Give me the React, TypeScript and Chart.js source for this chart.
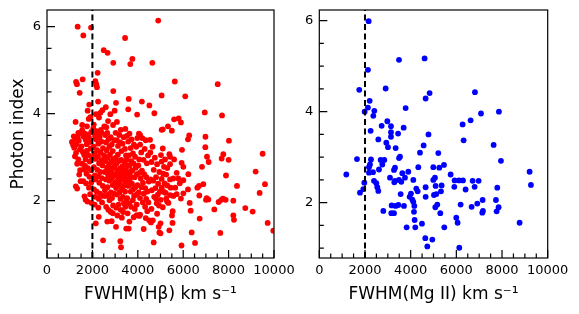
import React, { useEffect, useRef } from "react";
import { Chart, registerables } from "chart.js";

Chart.register(...registerables);

// ---------- axis ticks ----------
const X_MAJOR = [0, 2000, 4000, 6000, 8000, 10000];
const X_MINOR = [500, 1000, 1500, 2500, 3000, 3500, 4500, 5000, 5500, 6500, 7000, 7500, 8500, 9000, 9500];
const Y_MAJOR = [2, 4, 6];
const Y_MINOR = [1, 1.5, 2.5, 3, 3.5, 4.5, 5, 5.5];
const CUT_FWHM = 2000;

const X_TITLE_HB = "FWHM(H\u03B2) km s\u207B\u00B9";
const X_TITLE_MG = "FWHM(Mg II) km s\u207B\u00B9";
const Y_TITLE = "Photon index";

const HB_Y_RANGE = [0.683, 6.384];
const MG_Y_RANGE = [0.785, 6.235];

// ---------- FWHM(Hbeta) vs photon index ----------
const hbetaPoints: number[][] = [
  // upper region
  [1350, 6.0], [1940, 5.98], [1600, 5.8], [4900, 6.14], [3440, 5.74], [2500, 5.46], [2670, 5.4], [2920, 5.17],
  [3760, 5.26], [3670, 5.14], [4640, 5.17], [2230, 4.94], [1280, 4.73], [1320, 4.68], [1570, 4.79], [2130, 4.75],
  [2170, 4.68], [2200, 4.61], [1440, 4.48], [2920, 4.52], [5050, 4.42], [3600, 4.34], [4180, 4.28], [4510, 4.19],
  [2250, 4.28], [3040, 4.25], [1860, 4.21], [2590, 4.15], [3580, 4.1], [1790, 4.07], [2980, 4.07], [2440, 4.08],
  [2350, 4.02], [3970, 3.98], [4730, 4.01], [2160, 3.99], [2790, 3.99], [1910, 3.92], [1840, 3.88], [2290, 3.91],
  [1260, 3.81], [2690, 3.83], [3080, 3.81], [1550, 3.74], [1760, 3.71], [2060, 3.75], [2610, 3.69], [2910, 3.74],
  [3250, 3.63], [3450, 3.65], [1380, 3.56], [2170, 3.6], [2410, 3.56], [5050, 3.63], [5630, 4.74], [7520, 4.68],
  [6090, 4.4], [6950, 4.03], [7710, 3.96], [5600, 3.87], [5800, 3.89], [5900, 3.8], [5330, 3.71], [5100, 3.64],
  [5500, 3.61], [6265, 3.5], [6210, 3.41], [6980, 3.47], [8015, 3.38], [4100, 3.51], [4540, 3.4],
  // 1000-1500
  [1100, 3.35], [1150, 3.28], [1250, 3.42], [1200, 3.22], [1300, 3.3], [1350, 3.45], [1280, 3.1], [1230, 3.02],
  [1420, 3.55], [1450, 3.18], [1380, 2.95], [1330, 2.85], [1460, 2.7], [1270, 2.33], [1330, 2.28], [1480, 2.45],
  [1420, 2.6], [1180, 3.48], [1400, 3.38],
  // 1500-2000
  [1550, 3.62], [1600, 3.48], [1650, 3.55], [1700, 3.4], [1750, 3.3], [1800, 3.52], [1850, 3.45], [1900, 3.35],
  [1950, 3.58], [1520, 3.25], [1580, 3.12], [1640, 3.05], [1700, 2.95], [1760, 3.15], [1820, 3.05], [1880, 2.9],
  [1930, 3.2], [1980, 3.0], [1550, 2.85], [1620, 2.72], [1680, 2.8], [1740, 2.62], [1800, 2.75], [1870, 2.55],
  [1940, 2.7], [1600, 2.45], [1720, 2.4], [1850, 2.3], [1950, 2.42], [1650, 2.1], [1700, 2.02], [1780, 1.98],
  [1900, 2.15], [1960, 1.95],
  // 2000-2500
  [2040, 3.66], [2115, 3.49], [2165, 3.41], [2215, 3.54], [2262, 3.31], [2318, 3.46], [2372, 3.63], [2405, 3.36],
  [2466, 3.21], [2058, 3.24], [2093, 3.08], [2148, 2.96], [2207, 3.16], [2242, 3.02], [2296, 2.86], [2361, 3.11],
  [2396, 2.93], [2447, 2.81], [2066, 2.77], [2108, 2.58], [2141, 2.49], [2218, 2.71], [2259, 2.56], [2305, 2.41],
  [2344, 2.66], [2417, 2.52], [2458, 2.34], [2072, 2.26], [2126, 2.09], [2190, 2.21], [2284, 2.04], [2339, 2.16],
  [2425, 1.96], [2487, 2.11], [2098, 1.91], [2262, 1.84], [2150, 1.48], [2280, 1.63], [2470, 1.09],
  // 2500-3000
  [2524, 3.71], [2566, 3.51], [2603, 3.34], [2655, 3.56], [2708, 3.41], [2747, 3.24], [2806, 3.46], [2853, 3.29],
  [2898, 3.14], [2954, 3.39], [2517, 3.04], [2583, 2.91], [2628, 3.16], [2684, 2.99], [2735, 2.84], [2776, 3.06],
  [2834, 2.89], [2887, 2.74], [2926, 2.96], [2978, 2.79], [2546, 2.66], [2594, 2.49], [2645, 2.76], [2693, 2.59],
  [2744, 2.46], [2795, 2.64], [2842, 2.51], [2893, 2.36], [2938, 2.56], [2987, 2.41], [2553, 2.24], [2612, 2.11],
  [2664, 2.31], [2716, 2.14], [2757, 2.01], [2815, 2.19], [2866, 2.06], [2913, 1.89], [2962, 2.16], [2606, 1.86],
  [2702, 1.79], [2811, 1.74], [2904, 1.71], [2655, 1.52], [2848, 1.53], [2560, 2.95], [2730, 2.7], [2870, 2.62],
  // 3000-3500
  [3022, 3.56], [3077, 3.39], [3128, 3.26], [3183, 3.51], [3226, 3.34], [3282, 3.14], [3331, 3.31], [3378, 3.46],
  [3433, 3.19], [3481, 3.04], [3032, 2.99], [3068, 2.86], [3124, 3.06], [3171, 2.91], [3217, 2.74], [3268, 2.94],
  [3323, 2.79], [3369, 2.64], [3418, 2.89], [3472, 2.71], [3012, 2.61], [3061, 2.44], [3108, 2.69], [3157, 2.54],
  [3212, 2.39], [3259, 2.59], [3312, 2.49], [3361, 2.34], [3408, 2.56], [3463, 2.44], [3043, 2.29], [3088, 2.14],
  [3142, 2.36], [3193, 2.19], [3238, 2.04], [3291, 2.26], [3342, 2.09], [3388, 1.94], [3442, 2.21], [3494, 1.99],
  [3052, 1.84], [3151, 1.91], [3249, 1.79], [3352, 1.74], [3451, 1.86], [3102, 1.66], [3298, 1.61], [3040, 1.4],
  [3230, 1.07], [3260, 0.93], [3490, 1.36], [3150, 2.62], [3200, 2.48], [3280, 2.72], [3380, 2.52], [3330, 2.3],
  // 3500-4000
  [3521, 3.49], [3577, 3.36], [3633, 3.54], [3682, 3.21], [3728, 3.41], [3784, 3.09], [3829, 3.29], [3878, 3.01],
  [3932, 3.24], [3979, 3.44], [3512, 2.94], [3561, 2.81], [3609, 3.04], [3662, 2.66], [3711, 2.91], [3758, 2.69],
  [3812, 2.86], [3861, 2.54], [3908, 2.76], [3961, 2.61], [3538, 2.51], [3592, 2.34], [3641, 2.46], [3688, 2.21],
  [3742, 2.39], [3792, 2.26], [3838, 2.11], [3891, 2.31], [3944, 2.14], [3988, 2.36], [3532, 2.06], [3618, 1.94],
  [3703, 1.86], [3781, 2.01], [3868, 1.81], [3952, 1.91], [3600, 1.36], [3630, 1.52], [3950, 1.67], [3550, 1.71],
  [3820, 1.62], [3560, 2.62], [3700, 2.55], [3640, 2.8],
  // 4000-4500
  [4048, 3.54], [4102, 3.29], [4151, 3.11], [4198, 3.44], [4252, 2.94], [4303, 3.19], [4349, 3.39], [4398, 2.86],
  [4451, 3.04], [4022, 2.81], [4081, 2.64], [4128, 2.51], [4182, 2.69], [4229, 2.41], [4281, 2.61], [4332, 2.29],
  [4379, 2.54], [4428, 2.21], [4482, 2.44], [4041, 2.19], [4098, 2.06], [4162, 2.31], [4221, 1.96], [4268, 2.16],
  [4322, 1.86], [4371, 2.04], [4419, 1.76], [4468, 1.96], [4060, 1.65], [4100, 1.68], [4260, 1.35], [4350, 1.6],
  [4500, 1.55], [4060, 2.95],
  // 4500-5000
  [4552, 3.11], [4603, 2.89], [4648, 3.24], [4702, 2.71], [4751, 2.99], [4803, 2.54], [4848, 2.84], [4897, 2.39],
  [4951, 2.66], [4561, 2.49], [4618, 2.24], [4682, 2.46], [4721, 2.09], [4778, 2.29], [4832, 1.94], [4882, 2.14],
  [4929, 1.89], [4978, 2.21], [4600, 1.81], [4660, 1.55], [4700, 1.04], [4920, 1.4], [4950, 1.27], [4800, 2.05],
  [4850, 1.7], [4580, 1.5],
  // 5000-5500
  [5390, 3.07], [5420, 3.01], [5420, 2.84], [5155, 2.78], [5420, 2.49], [5420, 2.13], [5100, 3.2], [5200, 2.95],
  [5250, 2.6], [5300, 2.35], [5150, 2.2], [5050, 2.5], [5350, 1.95], [5450, 2.3], [5250, 2.05], [5100, 1.85],
  [5390, 1.32], [5000, 1.48], [5000, 1.25], [5300, 2.75], [5050, 2.9], [5020, 3.05], [5120, 2.62], [5180, 2.4],
  [5060, 2.3], [5230, 2.18], [5010, 2.02], [5290, 1.98],
  // 5500-6000
  [5712, 2.64], [5565, 2.51], [5785, 2.51], [5712, 2.15], [5565, 2.11], [5536, 1.76], [5506, 1.66], [5530, 1.49],
  [5925, 0.97], [5600, 2.95], [5850, 2.4], [5650, 2.3], [5900, 2.05], [5947, 3.17], [5932, 2.87],
  // 6000-7000
  [6006, 2.78], [6226, 2.61], [6006, 2.47], [6006, 2.17], [6211, 2.26], [6285, 1.95], [6329, 1.77], [6373, 1.27],
  [6520, 1.03], [6725, 1.59], [6696, 2.34], [6622, 2.3], [6886, 2.38], [6710, 2.12], [6828, 2.78], [6975, 3.23],
  // 7000-8000
  [7033, 2.06], [7107, 2.03], [7004, 2.02], [7048, 3.01], [7121, 2.89], [7767, 3.07], [7694, 2.97], [7752, 2.05],
  [7870, 2.02], [7679, 2.02], [7562, 1.97], [7371, 1.8], [7635, 1.26], [7885, 2.58],
  // 8000+
  [8002, 2.94], [8208, 2.0], [8369, 2.34], [8736, 1.83], [9059, 1.75], [8208, 1.66], [8237, 1.56], [9191, 2.67],
  [9499, 3.08], [9602, 2.38], [9367, 2.18], [9720, 1.49], [9969, 1.31],
];

// ---------- FWHM(Mg II) vs photon index ----------
const mgiiPoints: number[][] = [
  [2160, 5.99], [3490, 5.14], [4610, 5.17], [2130, 4.92], [1750, 4.48], [2905, 4.51], [4830, 4.41], [4655, 4.29],
  [6815, 4.43], [2205, 4.24], [2130, 4.09], [1985, 4.0], [2410, 4.02], [2365, 3.91], [3780, 4.08], [7080, 3.96],
  [7865, 4.0], [2978, 3.79], [2730, 3.69], [3138, 3.68], [3693, 3.65], [6275, 3.72], [6625, 3.81], [2248, 3.58],
  [3138, 3.55], [3450, 3.52], [4780, 3.5], [3138, 3.45], [2584, 3.39], [6319, 3.37], [7632, 3.27], [2934, 3.32],
  [3007, 3.22], [3343, 3.2], [4568, 3.26], [4408, 3.1], [5210, 3.09], [3533, 3.01], [3490, 2.98], [1650, 2.96],
  [2263, 2.95], [2686, 2.94], [2847, 2.94], [2759, 2.84], [2219, 2.84], [2175, 2.78], [2613, 2.73], [7953, 2.92],
  [4335, 2.78], [4991, 2.78], [5254, 2.77], [5458, 2.83], [3314, 2.77], [3270, 2.72], [1183, 2.62], [2175, 2.66],
  [2351, 2.67], [3635, 2.65], [3897, 2.68], [3095, 2.55], [3751, 2.55], [3591, 2.46], [3489, 2.5], [3284, 2.45],
  [3313, 2.48], [4116, 2.5], [5064, 2.55], [4991, 2.5], [5750, 2.62], [5925, 2.49], [6115, 2.49], [6290, 2.49],
  [6713, 2.48], [6976, 2.48], [9208, 2.68], [9266, 2.39], [1971, 2.44], [2394, 2.48], [2496, 2.43], [2540, 2.34],
  [2584, 2.26], [1927, 2.3], [1781, 2.22], [5093, 2.37], [5356, 2.38], [4656, 2.34], [4247, 2.31], [4306, 2.25],
  [5327, 2.25], [5123, 2.19], [5020, 2.17], [5911, 2.35], [6406, 2.29], [6800, 2.35], [7793, 2.33], [3562, 2.19],
  [4014, 2.2], [3955, 2.13], [4072, 2.07], [4656, 2.13], [4116, 2.02], [4160, 1.93], [7151, 2.06], [6917, 1.98],
  [7734, 2.06], [3168, 1.94], [3153, 1.77], [3270, 1.77], [3343, 1.93], [3460, 1.95], [3707, 1.93], [5079, 1.9],
  [5166, 1.96], [6188, 1.96], [6669, 1.91], [7851, 1.9], [2803, 1.82], [4145, 1.8], [5298, 1.77], [7136, 1.78],
  [7165, 1.82], [7764, 1.81], [5998, 1.67], [6056, 1.56], [4174, 1.62], [4495, 1.54], [3824, 1.46], [4203, 1.46],
  [5473, 1.46], [8770, 1.56], [4641, 1.22], [4948, 1.19], [4729, 1.04], [6129, 1.01],
];

const W = 579;
const H = 314;
const FONT = "'DejaVu Sans', sans-serif";

const axisFrame = {
  id: "axisFrame",
  afterDatasetsDraw(chart: any) {
    const { ctx, chartArea: a } = chart;
    const xs = chart.scales.x;
    const ys = chart.scales.y;
    ctx.save();
    ctx.strokeStyle = "#000";
    ctx.lineWidth = 1.2;
    ctx.beginPath();
    const major = 8;
    const minor = 4.5;
    X_MAJOR.forEach((v) => {
      const p = xs.getPixelForValue(v);
      ctx.moveTo(p, a.bottom);
      ctx.lineTo(p, a.bottom - major);
    });
    X_MINOR.forEach((v) => {
      const p = xs.getPixelForValue(v);
      ctx.moveTo(p, a.bottom);
      ctx.lineTo(p, a.bottom - minor);
    });
    Y_MAJOR.forEach((v) => {
      const p = ys.getPixelForValue(v);
      if (p < a.top || p > a.bottom) return;
      ctx.moveTo(a.left, p);
      ctx.lineTo(a.left + major, p);
    });
    Y_MINOR.forEach((v) => {
      const p = ys.getPixelForValue(v);
      if (p < a.top || p > a.bottom) return;
      ctx.moveTo(a.left, p);
      ctx.lineTo(a.left + minor, p);
    });
    ctx.stroke();
    ctx.strokeRect(a.left, a.top, a.right - a.left, a.bottom - a.top);
    ctx.restore();
  },
};

type Box = { padLeft: number; padRight: number; padTop: number; yWidth: number; xHeight: number };

function makeConfig(points: number[][], color: string, yRange: number[], xTitle: string, yTitle: string | null, box: Box): any {
  return {
    type: "scatter",
    data: {
      datasets: [
        {
          data: [
            { x: CUT_FWHM, y: yRange[0] },
            { x: CUT_FWHM, y: yRange[1] },
          ],
          showLine: true,
          borderColor: "#000",
          borderWidth: 2,
          borderDash: [6, 3.5],
          pointRadius: 0,
          pointHoverRadius: 0,
          order: 0,
          clip: 0,
        },
        {
          data: points.map((p) => ({ x: p[0], y: p[1] })),
          backgroundColor: color,
          borderWidth: 0,
          pointRadius: 2.9,
          pointHoverRadius: 2.9,
          order: 1,
          clip: 0,
        },
      ],
    },
    options: {
      responsive: false,
      animation: false,
      events: [],
      devicePixelRatio: 1,
      layout: { padding: { left: box.padLeft, right: box.padRight, top: box.padTop, bottom: 0 } },
      plugins: { legend: { display: false }, tooltip: { enabled: false } },
      scales: {
        x: {
          type: "linear",
          min: 0,
          max: 10000,
          grid: { display: false, drawTicks: false },
          border: { display: false },
          afterBuildTicks: (s: any) => {
            s.ticks = X_MAJOR.map((v) => ({ value: v }));
          },
          afterFit: (s: any) => {
            s.height = box.xHeight;
          },
          ticks: {
            autoSkip: false,
            maxRotation: 0,
            padding: 5,
            color: "#000",
            font: { family: FONT, size: 13 },
            callback: (v: any) => String(v),
          },
          title: {
            display: true,
            text: xTitle,
            color: "#000",
            font: { family: FONT, size: 17 },
            padding: { top: 0, bottom: 9 },
          },
        },
        y: {
          type: "linear",
          min: yRange[0],
          max: yRange[1],
          grid: { display: false, drawTicks: false },
          border: { display: false },
          afterBuildTicks: (s: any) => {
            s.ticks = Y_MAJOR.map((v) => ({ value: v }));
          },
          afterFit: (s: any) => {
            s.width = box.yWidth;
            s.paddingTop = 0;
            s.paddingBottom = 0;
          },
          ticks: {
            autoSkip: false,
            padding: 6,
            color: "#000",
            font: { family: FONT, size: 13 },
            callback: (v: any) => String(v),
          },
          title: {
            display: !!yTitle,
            text: yTitle || "",
            color: "#000",
            font: { family: FONT, size: 17 },
            padding: { top: 8, bottom: 0 },
          },
        },
      },
    },
    plugins: [axisFrame],
  };
}

function Panel({ config }: { config: any }) {
  const ref = useRef<HTMLCanvasElement | null>(null);
  useEffect(() => {
    if (!ref.current) return;
    const chart = new Chart(ref.current, config);
    return () => chart.destroy();
  }, [config]);
  return (
    <canvas
      ref={ref}
      width={W}
      height={H}
      style={{ position: "absolute", left: 0, top: 0, width: W, height: H }}
    />
  );
}

const leftConfig = makeConfig(hbetaPoints, "#ff0000", HB_Y_RANGE, X_TITLE_HB, Y_TITLE, {
  padLeft: 0,
  padRight: W - 274,
  padTop: 10,
  yWidth: 47,
  xHeight: 56,
});

const rightConfig = makeConfig(mgiiPoints, "#0000ff", MG_Y_RANGE, X_TITLE_MG, null, {
  padLeft: 290,
  padRight: W - 547.7,
  padTop: 10,
  yWidth: 29.3,
  xHeight: 56,
});

export default function App() {
  useEffect(() => {
    document.body.style.margin = "0";
  }, []);
  return (
    <div style={{ position: "fixed", left: 0, top: 0, width: W, height: H, background: "#fff" }}>
      <Panel config={leftConfig} />
      <Panel config={rightConfig} />
    </div>
  );
}
